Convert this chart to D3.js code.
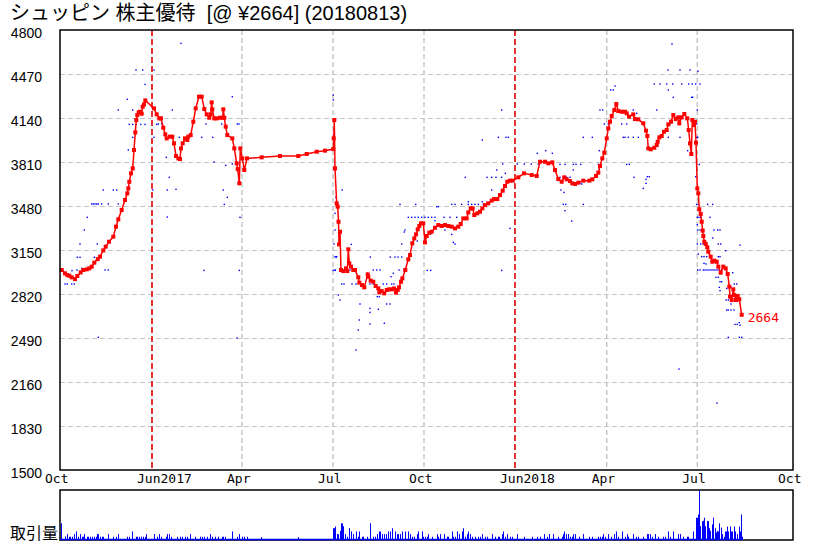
<!DOCTYPE html>
<html><head><meta charset="utf-8">
<script src="https://cdn.jsdelivr.net/npm/d3@7"></script>
<style>body{margin:0;background:#fff}svg{display:block}</style>
</head><body>
<script>
// ---------- DATA ----------
const title = "シュッピン 株主優待  [@ ¥2664] (20180813)";
const lastPrice = 2664;
const yTicks = [1500,1830,2160,2490,2820,3150,3480,3810,4140,4470,4800];
const xTickLabels = ["Oct","Jun2017","Apr","Jul","Oct","Jun2018","Apr","Jul","Oct"];
const xTickDays   = [0, 92, 182, 273, 364, 455, 546.7, 637.3, 733];
const xTickRed    = [false,true,false,false,false,true,false,false,false];
// price series: [day index, price]
const priceDay = [1.7,5,7.3,9.3,11.7,15,17.3,20.7,23.3,26.7,29.3,31.7,34.3,37.7,40,43.3,45.7,49,53.3,56,58.3,61.7,65,67.3,68.3,69.3,71,72.7,74,75.3,76.3,77.3,78.7,80,81.7,82.7,84,85.3,94,96.7,99.3,101,103.3,105.3,106.7,110,112.3,114,116,118.3,120,121,122.7,125,127.3,128.3,130.7,133.3,135.7,139,141.7,144.3,146.7,149.3,150.7,151.7,152.3,154.3,156.7,160,162.7,163.3,164.3,165.7,167.3,172.3,174.3,176.7,177.7,179.3,180.3,182.3,184.3,187,201.7,220,238.3,246.7,256.7,265,273.3,273.7,274.3,275,276.7,277.7,278.5,279,280,281,283.3,286,287.3,288.3,289.3,291,293.3,295,298.3,299.3,302,304.3,307.7,308.3,310.7,313.3,315.7,318.3,319.3,321.7,324.3,326.7,329,331.7,334,336,337.7,339,341,342.3,345.3,348.3,350,352.3,354.3,356,357.7,359.3,361,363.3,365,366.7,369.3,371.7,375,378.3,381.7,385,388.3,391.7,395,398.3,400.7,403.3,406.7,408.3,410.7,412.7,414.3,417.3,420,422.3,425,428.3,431.7,434,437.3,440,442.7,445,447.3,450,452.7,458.3,464,471.7,476.7,480,485,488.3,492.3,495,498.3,501.7,504.3,506.7,510,512.3,515,518.3,523.3,529.3,532.3,536,538.3,540,542.3,544.3,546.7,548.3,550,551.7,554.3,556.3,558.3,561.7,565,566.7,569,573.3,575,578.3,583.3,586,587.3,588.3,590.7,594.3,596.7,597.7,599.3,601.7,604,606.7,608.3,611,613.3,615.7,618.3,619.3,621.7,624.3,627.3,628.7,630,631.3,632.3,634,635,636,637.3,638.3,639.3,640.7,641.7,642.7,643.3,644.3,645.7,647.3,648.3,650.7,652.3,654.3,656.7,658.3,660.7,663.3,665.7,667.7,669.3,670,671.7,673.3,674.3,676,677.7,679.3,681.7];
const priceVal = [3000,2975,2962,2957,2945,2932,2955,2982,3000,3005,3012,3025,3055,3082,3100,3147,3175,3212,3250,3325,3380,3450,3525,3575,3612,3662,3725,3762,3900,4032,4125,4162,4182,4187,4172,4225,4242,4272,4212,4167,4137,4137,4067,4017,3987,4000,4000,3950,3855,3837,3832,3912,3950,3987,3975,4000,4012,4112,4212,4300,4300,4207,4167,4142,4167,4257,4205,4137,4137,4142,4142,4205,4142,4075,4012,3987,3912,3800,3757,3650,3912,3837,3750,3837,3845,3855,3855,3870,3887,3895,3907,3987,4125,3762,3500,3475,3362,3192,3287,3000,2992,3012,2992,3155,3050,3025,3000,3000,2945,2905,2887,2870,2967,2950,2920,2912,2880,2862,2832,2842,2825,2850,2855,2855,2862,2830,2850,2870,2912,2937,3000,3080,3112,3200,3237,3267,3305,3330,3350,3350,3207,3255,3280,3287,3317,3337,3330,3337,3330,3325,3312,3325,3345,3387,3387,3432,3462,3462,3412,3425,3437,3462,3487,3500,3520,3532,3532,3562,3595,3630,3662,3670,3670,3695,3725,3712,3705,3812,3812,3800,3807,3750,3682,3662,3695,3680,3667,3650,3645,3655,3670,3670,3680,3705,3730,3780,3837,3880,3987,4062,4112,4155,4200,4245,4192,4187,4187,4175,4150,4167,4132,4130,4100,4045,4005,3912,3905,3917,3937,3962,3995,4005,4037,4050,4092,4112,4162,4132,4145,4100,4145,4170,4137,4050,3950,3870,4125,4087,4112,3955,3612,3575,3455,3420,3362,3295,3255,3212,3195,3170,3137,3100,3062,3070,3062,3025,2980,3025,3012,2970,2875,2800,2775,2855,2812,2775,2805,2780,2664];
// scattered blue points: [day index, price]
const dots = [[76,4500],[82.7,4500],[94,4500],[85,4392],[67.3,4280],[58.3,4200],[72.7,4200],[69.3,4092],[72.7,4092],[76,4092],[80.7,4092],[85,4092],[96.7,4092],[94,3995],[72.7,3995],[68.3,3900],[43.3,3600],[53.3,3600],[56.7,3600],[92.7,3600],[31.7,3495],[33.3,3495],[35,3495],[36.7,3495],[38.3,3495],[41.7,3495],[48.3,3495],[58.3,3495],[27.3,3395],[24.3,3300],[20,3195],[37.3,3195],[17.3,3095],[20,3095],[34.3,3095],[21.7,3012],[5,2895],[7.3,2895],[11.7,2895],[14.3,2895],[3,2995],[12,2995],[17,3000],[38.3,2495],[45,3000],[48.3,3000],
[112.3,4200],[172.3,4300],[273.3,4312],[273.3,4275],[98.3,4095],[101.7,4095],[146,4095],[161.7,4095],[177.3,4095],[179,4095],[108.3,3995],[113.3,3995],[119.3,3995],[141.7,3995],[152.7,3995],[106.3,3845],[154,3810],[165.7,3785],[172.3,3795],[109.3,3695],[107.3,3600],[116,3605],[163.3,3600],[167.3,3545],[164.3,3492],[107.3,3397],[180,3395],[144,2997],[179.3,2997],[273.3,2997],[275.3,2997],[275,3300],[275,3425],[276,3545],[276,3095],[274,3195],[121,4700],[177,2490],
[441.7,4200],[422.3,3975],[438.3,3995],[446,3995],[448.3,3995],[436.7,3750],[442.7,3795],[445.3,3725],[457.3,3795],[464.3,3795],[471.3,3795],[478.3,3795],[477.3,3875],[485.7,3895],[492.3,3875],[405.3,3695],[427,3695],[431.7,3695],[436,3695],[441.7,3695],[431.7,3600],[442.3,3600],[282.3,3600],[340,3492],[355.7,3492],[376.7,3475],[378.3,3475],[391.7,3492],[395,3492],[401.7,3492],[408.3,3492],[411.7,3492],[415,3492],[418.3,3492],[423.3,3492],[408.3,3512],[422.3,3512],
[348.3,3395],[351.7,3395],[355,3395],[358.3,3395],[361.7,3395],[365,3395],[368.3,3395],[371.7,3395],[375,3395],[384,3395],[390,3395],[396.7,3395],[375,3370],[385,3300],[391.7,3267],[393.3,3207],[395,3195],[370.7,3270],[367.3,2997],[370.7,2997],[441.7,2997],[450,3312],[345,3300],[341.7,3195],[357.3,3217],[344.3,3285],[330.3,3097],[335,3097],[338,3097],[341.7,3097],[310.3,3097],[291.3,3192],[275,3100],[276.7,3100],[275,3000],[285,3000],[290,3000],
[281.7,2895],[284,2895],[292,2895],[296,2895],[301,2895],[310,2895],[313.3,2895],[323.3,2895],[326.7,2895],[331.7,2895],[334,2895],[278.3,2812],[280,2775],[300,2745],[310,2712],[310,2682],[318.3,2705],[299.3,2625],[298.3,2550],[324.3,2600],[310,2595],[326.7,2745],[330,2745],[296,2400],[317.3,2800],[319.3,2800],[313.3,3000],[316.7,3000],[320,3000],[333.3,2975],[331,2950],[339,3000],[344,3000],
[555,4380],[550.7,4350],[553.3,4350],[594.3,4395],[600,4395],[606.7,4395],[612.7,4395],[621.7,4395],[628.7,4395],[635.7,4395],[640,4395],[632.3,4395],[608.3,4350],[613.3,4295],[631.7,4295],[632.7,4295],[540,4200],[542.7,4200],[573.3,4200],[596.7,4200],[637.3,4200],[576.7,4175],[544.3,4095],[548.3,4095],[561.7,4095],[566.7,4095],[610,4095],[636.7,4095],[523.3,3995],[532.3,3995],[563.3,3995],[565,3995],[568.3,3995],[573.3,3995],[578.3,3995],[608.3,3995],[620,3995],[636.7,3995],[637.7,3995],[627.7,3895],[539.3,3895],[538.3,3792],[500,3792],[505,3792],[513.3,3792],[516,3792],[520.7,3792],[566.7,3792],[569.3,3792],[636.7,3792],[639.3,3792],[539.3,3762],[513.3,3750],[587.3,3700],[589.3,3700],[586,3680],[574,3695],[586,3650],[583.3,3612],[501,3600],[504,3582],[500,3695],[503.3,3695],[506.7,3695],[510,3695],[520,3650],[521.7,3645],[636.7,3750],[635.7,3700],[503.3,3492],[505.7,3492],[505,3445],[523.3,3492],[511.7,3367],[636.7,3492],[638.3,3492],[647.7,3492],[652.7,3492],
[637.3,3395],[639,3395],[640.7,3395],[650,3395],[637.3,3340],[637.7,3300],[640,3300],[643.3,3300],[654,3300],[657.7,3300],[660,3300],[637.3,3195],[640.7,3195],[643.3,3195],[646.7,3195],[652.7,3240],[658.3,3195],[660.7,3195],[680,3187],[638.3,3120],[641.7,3100],[644,3100],[646.7,3100],[649.3,3125],[658.3,3100],[660,3100],[665.7,3145],[644,3050],[646,3045],
[637.7,3000],[640,3000],[643.3,3000],[645,3000],[647,3000],[649,3000],[651,3000],[653,3000],[655,3000],[657,3000],[659,3000],[661.7,3000],
[656,2945],[658.3,2945],[660,2912],[661.7,2912],[659.3,2870],[660,2845],[666.7,2862],[672.7,2980],[674.3,2895],[676.7,2895],[671,2870],[666,2775],[668.3,2775],[666.7,2700],[668.3,2700],[671,2700],[674,2700],[671,2745],[675,2592],[677.3,2592],[679.3,2605],[680,2585],[668.3,2495],[679.3,2495],[681.7,2495],
[619,2257],[657,2002],[612,4695],[608,4500],[620,4500],[630,4500],[638,4490]];
// volume: [day index, volume]
const volume = [[1,16],[5,2.7],[7.3,5],[9,2.3],[10.3,2.3],[11.7,2.3],[14,5],[15.7,5],[16.3,7.7],[18.3,2.3],[20,5],[21.7,2.3],[23.3,2.3],[24.3,5],[26.7,2.3],[28.3,2.3],[30,2.3],[31.7,2.3],[34.3,2.3],[35.7,2.3],[37.3,5],[38.3,5],[40,2.3],[41.7,2.3],[43.3,2.3],[48.3,5],[53.3,2.3],[56,2.3],[58.3,5],[67.3,2.3],[69,2.3],[72.3,7.7],[75.7,2.3],[77,2.3],[79,2.3],[81,2.3],[83,2.3],[85,2.3],[85.7,5],[94.3,5],[96.7,2.3],[99.3,5],[101,2.3],[105.7,2.3],[107.3,5],[109.3,5],[111,2.3],[116.7,2.3],[120,2.3],[121.7,2.3],[125,2.3],[126.7,2.3],[130,5],[135,2.3],[140,2.3],[141.7,2.3],[144.3,2.3],[146.7,2.3],[150,5],[151.7,2.3],[155,2.3],[158.3,2.3],[161.7,2.3],[163.3,2.3],[165,2.3],[172.3,7.7],[176.7,2.3],[179.3,5],[181.7,2.3],[184.3,2.3],[187.3,2.3],[201,2],[238.3,2],
[272.7,11],[273.7,11],[275,12.7],[276.7,5],[278.3,5],[280,8.3],[281,16],[281.7,16],[282.7,13],[285,5],[286.7,2.3],[289.3,11],[291,7.7],[293.3,5],[296,7.7],[298.3,2.3],[299.3,7.7],[301.7,2.3],[303.3,2.3],[307.3,2.3],[310,16],[313.3,2.3],[315,2.3],[317.3,5],[319.3,7.7],[320,7.7],[321.7,5],[324,5],[326,5],[327.7,7.7],[330,7.7],[332.3,11],[335,7.7],[336.7,5],[338.3,5],[340,5],[341.7,7.7],[345,7.7],[348.3,7.7],[350,5],[352.3,2.3],[354.3,2.3],[356.7,5],[358.3,7.7],[361.7,7.7],[363.3,2.3],[365,2.3],[366.7,2.3],[368.3,2.3],
[368,5],[372.3,2.3],[376.7,5],[378.3,2.3],[380,5],[384.3,5],[386.7,2.3],[388.3,2.3],[391.7,7.7],[393.3,2.3],[395,2.3],[397.3,7.7],[399.3,5],[401.7,7.7],[403.3,11],[405,2.3],[406.7,5],[408.3,7.7],[410,5],[412.3,2.3],[415,2.3],[418.3,2.3],[420,2.3],[422.3,5],[425,2.3],[426.7,2.3],[431.7,5],[435,2.3],[437.7,2.3],[439,2.3],[441.7,5],[442.7,7.7],[445,2.3],[446.7,5],[450,2.3],[451.7,2.3],[457.3,5],[464.3,2.3],[471.7,2.3],[476.7,2.3],[480,2.3],[484.3,5],[486.7,2.3],[489,5],[493.3,5],[497.7,2.3],[501.7,2.3],[503.3,5],[504.3,7.7],[505.7,5],[507.7,5],[510,2.3],[511.7,2.3],[513.3,5],[515,5],[519.3,2.3],[522.7,5],[529.3,2.3],[531.7,2.3],[538.3,2.3],[540,2.3],[541.7,2.3],[543.3,5],[545,2.3],[548.3,5],[551,2.3],[554.3,5],[556,7.7],[558.3,2.3],[562.3,7.7],[565,2.3],[566.7,5],[568.3,2.3],[573.3,5],[575.7,2.3],[578.3,2.3],[583.3,2.3],[586.7,5],[588.3,5],[590,5],[591.7,2.3],[595,5],[598.3,2.3],[603.3,2.3],[605,2.3],[608.3,7.7],[610,2.3],[613.3,7.7],[618.3,5],[620,5],[623.3,2.3],[626.7,2.3],[628.3,2.3],[632.7,7.7],
[636,21.7],[636.7,21.7],[637.7,25],[638.3,16],[639.3,50],[640.3,13],[641.7,18],[642.7,18.7],[643.3,15],[644.3,21.7],[645,13],[646.7,18.3],[648.3,18.3],[649.3,11],[650.3,8.3],[651.7,15],[652.7,21.7],[653.3,11],[655,11],[656,6.7],[657,8.3],[658.3,7.7],[659.3,16],[660.7,11.7],[661.7,5],[664.3,2.3],[665,7.7],[666,7.7],[667.3,12.7],[668.3,7.7],[670,12.7],[671,7.7],[672.3,7.7],[674.3,12.7],[675.3,7.7],[677,5],[679,12.7],[680.3,7.7],[681,25],[682,2.3]];

// ---------- CHART ----------
const W = 829, H = 551;
const M = {l:60, r:793, t:30, b:470};
const V = {t:490, b:540};
const svg = d3.select("body").append("svg").attr("width", W).attr("height", H);

const x = d3.scaleLinear().domain([0, 733]).range([M.l, M.r]);
const y = d3.scaleLinear().domain([1500, 4800]).range([M.b, M.t]);
const yv = d3.scaleLinear().domain([0, 50]).range([V.b - 1, V.t]);

// title
svg.append("text").attr("x", 10).attr("y", 20.3)
  .attr("font-family", "'Liberation Sans', 'Noto Sans CJK JP', sans-serif").attr("font-size", 20)
  .style("white-space", "pre").attr("xml:space", "preserve")
  .attr("fill", "#000").text(title);

// horizontal grid
svg.append("g").selectAll("line").data(yTicks.slice(1, -1)).join("line")
  .attr("x1", M.l).attr("x2", M.r)
  .attr("y1", d => Math.round(y(d)) + 0.5).attr("y2", d => Math.round(y(d)) + 0.5)
  .attr("stroke", "#c4c4c4").attr("stroke-width", 1.2).attr("stroke-dasharray", "5,3");

// vertical grid
const vg = xTickDays.map((d, i) => ({d, red: xTickRed[i]})).filter(o => o.d > 0 && o.d < 733);
svg.append("g").selectAll("line").data(vg).join("line")
  .attr("x1", o => x(o.d)).attr("x2", o => x(o.d))
  .attr("y1", M.t).attr("y2", M.b)
  .attr("stroke", o => o.red ? "#dd0000" : "#c4c4c4")
  .attr("stroke-width", o => o.red ? 1.6 : 1.4)
  .attr("stroke-dasharray", o => o.red ? "6,3" : "5,3");

// y tick labels
svg.append("g").selectAll("text").data(yTicks).join("text")
  .attr("x", 42).attr("y", d => y(d) + 7.5).attr("text-anchor", "end")
  .attr("font-family", "'Liberation Sans', Arial, sans-serif").attr("font-size", 14)
  .text(d => d);

// x tick labels
svg.append("g").selectAll("text").data(xTickDays).join("text")
  .attr("x", d => x(d) - 15).attr("y", 482.5)
  .attr("font-family", "'DejaVu Sans Mono', monospace").attr("font-size", 13)
  .text((d, i) => xTickLabels[i]);

// blue dots
svg.append("g").selectAll("rect").data(dots).join("rect")
  .attr("x", d => x(d[0]) - 0.7).attr("y", d => y(d[1]) - 0.7)
  .attr("width", 1.4).attr("height", 1.4).attr("fill", "#0000ff");

// price line
const pts = priceDay.map((d, i) => [d, priceVal[i]]);
svg.append("path").datum(pts)
  .attr("d", d3.line().x(d => x(d[0])).y(d => y(d[1])))
  .attr("fill", "none").attr("stroke", "#ff0000").attr("stroke-width", 1.5);
svg.append("g").selectAll("rect").data(pts).join("rect")
  .attr("x", d => x(d[0]) - 2).attr("y", d => y(d[1]) - 2)
  .attr("width", 4).attr("height", 4).attr("fill", "#ff0000");

// last price label
svg.append("text").attr("x", x(priceDay[priceDay.length - 1]) + 6).attr("y", y(lastPrice) + 7)
  .attr("font-family", "'DejaVu Sans Mono', monospace").attr("font-size", 13)
  .attr("fill", "#ff0000").text(lastPrice);

// main frame
svg.append("rect").attr("x", M.l).attr("y", M.t).attr("width", M.r - M.l).attr("height", M.b - M.t)
  .attr("fill", "none").attr("stroke", "#000").attr("stroke-width", 1.5);

// volume panel
svg.append("rect").attr("x", M.l).attr("y", V.t).attr("width", M.r - M.l).attr("height", V.b - V.t)
  .attr("fill", "none").attr("stroke", "#000").attr("stroke-width", 1.5);
svg.append("g").selectAll("rect").data(volume).join("rect")
  .attr("x", d => Math.round(x(d[0]))).attr("width", 1)
  .attr("y", d => yv(d[1])).attr("height", d => yv(0) - yv(d[1]) + 1)
  .attr("fill", "#0000ff");
svg.append("line").attr("x1", x(0)).attr("x2", x(priceDay[priceDay.length - 1]))
  .attr("y1", V.b - 0.5).attr("y2", V.b - 0.5).attr("stroke", "#0000ff").attr("stroke-width", 1.5);

svg.append("text").attr("x", 10).attr("y", 539)
  .attr("font-family", "'Noto Sans CJK JP', sans-serif").attr("font-size", 16)
  .text("取引量");
</script>
</body></html>
